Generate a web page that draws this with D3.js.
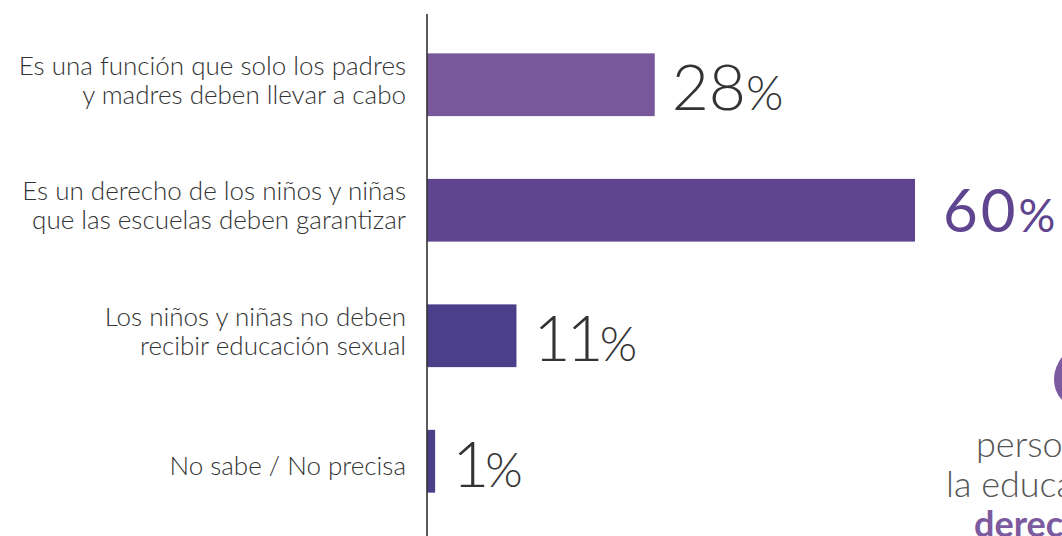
<!DOCTYPE html>
<html><head><meta charset="utf-8">
<script src="https://cdn.jsdelivr.net/npm/d3@7"></script>
<style>html,body{margin:0;padding:0;background:#fff;overflow:hidden}</style>
</head><body>
<svg id="chart" width="1062" height="536"></svg>
<script>
const categories = [
  ["Es una función que solo los padres", "y madres deben llevar a cabo"],
  ["Es un derecho de los niños y niñas", "que las escuelas deben garantizar"],
  ["Los niños y niñas no deben", "recibir educación sexual"],
  ["No sabe / No precisa"]
];
const keys = ["padres", "derecho", "no", "nosabe"];
const values = [28, 60, 11, 1];
const barColors = ["#78589b", "#5f4590", "#4b3f89", "#4b3f89"];
const highlight = [false, true, false, false];
const sideText = ["personas consideran que", "la educación sexual es un", "derecho de niños y niñas"];

const svg = d3.select("#chart");
const FONT = "Lato, 'Open Sans', sans-serif";

const x = d3.scaleLinear().domain([0, 60]).range([427, 915]);
const y = d3.scaleBand().domain(keys).range([22, 524]).paddingInner(0.5).paddingOuter(0.25);

// bars
svg.selectAll("rect.bar").data(values).join("rect")
  .attr("class", "bar")
  .attr("x", x(0))
  .attr("y", (d, i) => y(keys[i]))
  .attr("width", d => x(d) - x(0))
  .attr("height", y.bandwidth())
  .attr("fill", (d, i) => barColors[i]);

// axis line
const yAxis = d3.axisLeft(y).tickSize(0).tickFormat("");
const ag = svg.append("g").attr("transform", `translate(${x(0)},0)`).call(yAxis);
ag.select(".domain").attr("d", "M0,14V536").attr("stroke", "#333").attr("stroke-width", 1.6);

// category labels
categories.forEach((lines, i) => {
  const cy = y(keys[i]) + y.bandwidth() / 2;
  const t = svg.append("text")
    .attr("text-anchor", "end")
    .attr("font-family", FONT)
    .attr("font-weight", 300)
    .attr("font-size", 26)
    .attr("fill", "#333");
  if (lines.length === 1) {
    t.append("tspan").attr("x", 406).attr("y", cy + 14).text(lines[0]);
  } else {
    lines.forEach((l, j) => t.append("tspan").attr("x", 406).attr("y", cy - 10 + j * 29).text(l));
  }
});

// value labels
values.forEach((v, i) => {
  const cy = y(keys[i]) + y.bandwidth() / 2;
  const hl = highlight[i];
  const t = svg.append("text")
    .attr("x", x(v) + (hl ? 28 : 17))
    .attr("y", cy + (hl ? 21.5 : 25.5))
    .attr("font-family", FONT)
    .attr("font-weight", hl ? 400 : 300)
    .attr("fill", hl ? "#5f4590" : "#333");
  t.append("tspan").attr("font-size", hl ? 60 : 64).attr("letter-spacing", hl ? 3 : (v < 20 ? -4 : 0)).text(v);
  t.append("tspan").attr("font-size", hl ? 46 : 48).attr("letter-spacing", 0).text("%");
});

// side annotation (cut off at right edge)
svg.append("text")
  .attr("x", 1050).attr("y", 406)
  .attr("font-family", FONT).attr("font-weight", 900)
  .attr("font-size", 108).attr("fill", "#7b5aa0")
  .text(values[1] + "%");
sideText.forEach((s, j) => {
  svg.append("text")
    .attr("x", [976, 946, 974][j])
    .attr("y", 457 + j * 40)
    .attr("font-family", FONT)
    .attr("font-weight", j === 2 ? 700 : 300)
    .attr("font-size", 36)
    .attr("fill", j === 2 ? "#7b5aa0" : "#555")
    .text(s);
});
</script>
</body></html>
